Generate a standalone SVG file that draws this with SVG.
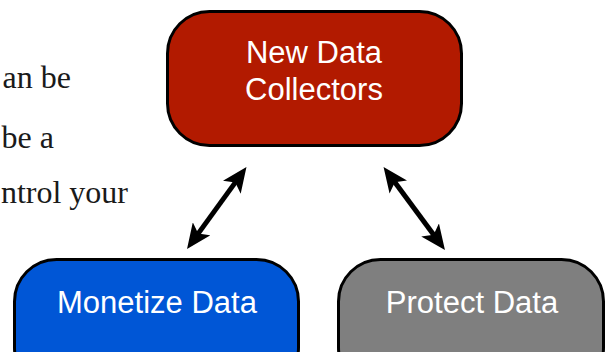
<svg xmlns="http://www.w3.org/2000/svg" width="605" height="352" viewBox="0 0 605 352">
  <style>
    .box { stroke: #000; stroke-width: 3; }
    .label { font-family: "Liberation Sans", Arial, sans-serif; font-size: 31px; fill: #fff; text-anchor: middle; }
    .body { font-family: "Liberation Serif", "Times New Roman", serif; font-size: 32px; fill: #1a1a1a; text-anchor: end; }
    .conn { stroke: #000; stroke-width: 5; fill: none; marker-start: url(#ah); marker-end: url(#ah); }
  </style>
  <defs>
    <marker id="ah" viewBox="0 0 26 22" refX="15" refY="11" markerWidth="26" markerHeight="22" markerUnits="userSpaceOnUse" orient="auto-start-reverse">
      <path d="M0,0 L25,11 L0,22 L6,11 Z" fill="#000"/>
    </marker>
  </defs>
  <rect width="605" height="352" fill="#fff"/>
  <g id="background-text">
    <text class="body" x="71" y="88">an be</text>
    <text class="body" x="54" y="148">be a</text>
    <text class="body" x="128" y="203">ntrol your</text>
  </g>
  <g id="connectors">
    <line class="conn" x1="192.9" y1="240.9" x2="240.6" y2="175.1"/>
    <line class="conn" x1="389.5" y1="175.0" x2="439.0" y2="242.0"/>
  </g>
  <g id="node-new-data-collectors">
    <rect class="box" x="167.5" y="11.5" width="294" height="134" rx="42" ry="42" fill="#B21A00"/>
    <text class="label" x="314" y="63">New Data</text>
    <text class="label" x="314" y="100">Collectors</text>
  </g>
  <g id="node-monetize-data">
    <rect class="box" x="14.5" y="259.5" width="284" height="130" rx="42" ry="42" fill="#0056D6"/>
    <text class="label" x="157" y="313">Monetize Data</text>
  </g>
  <g id="node-protect-data">
    <rect class="box" x="338.5" y="259.5" width="265" height="130" rx="42" ry="42" fill="#7F7F7F"/>
    <text class="label" x="472" y="313">Protect Data</text>
  </g>
</svg>
